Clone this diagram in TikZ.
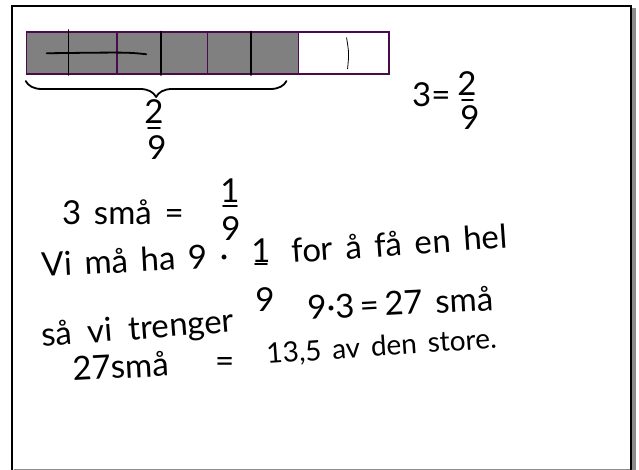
\documentclass[tikz,border=0pt]{standalone}
\usepackage{fontspec}
\usetikzlibrary{decorations.pathreplacing,positioning}
\newfontfamily\handfont{Lato}[WordSpace=1.5]
\definecolor{cellplum}{HTML}{4B0A4B}
\definecolor{cellgray}{HTML}{808080}
\definecolor{shadowgray}{HTML}{8C8C8C}

\begin{document}
\begin{tikzpicture}[
    x=1pt,y=-1pt,
    part/.style={draw=cellplum,line width=1.5pt,fill=cellgray,
                 minimum width=90.6pt,minimum height=42pt,inner sep=0pt,anchor=north west},
    hand/.style={font=\handfont\fontsize{33}{38}\selectfont,inner sep=0pt,anchor=base west},
    digit/.style={font=\handfont\fontsize{33}{38}\selectfont,inner sep=0pt},
    pen/.style={line width=1.8pt,line cap=round,line join=round}
  ]
    \useasboundingbox (0,0) rectangle (639,470);
    \fill[shadowgray] (14,8) rectangle (636,472);
    \fill[white] (12,6) rectangle (631,468.5);
    \draw[line width=2pt] (12,472) -- (12,6) -- (631,6) -- (631,472);

    \node[part] (part1) at (25.7,31.5) {};
    \node[part] (part2) at (116.3,31.5) {};
    \node[part] (part3) at (206.9,31.5) {};
    \node[part,fill=white] (part4) at (297.5,31.5) {};
    \draw[pen] ([xshift=-3.3pt,yshift=1.5pt]part1.north) -- ([xshift=-3.3pt]part1.south);
    \draw[pen] ([xshift=-1.3pt]part2.north) -- ([xshift=-1.3pt]part2.south);
    \draw[pen] ([xshift=-2pt]part3.north) -- ([xshift=-2pt]part3.south);
    \draw[line width=0.8pt] ([xshift=3pt,yshift=-6pt]part4.north) .. controls ([xshift=5.5pt]part4.center) .. ([xshift=4pt,yshift=6pt]part4.south);
    \draw[pen] ([xshift=21pt]part1.west) .. controls ([xshift=10pt,yshift=1pt]part1.east) .. ([xshift=30pt,yshift=-1pt]part2.west);

    \draw[pen,decorate,decoration={brace,mirror,amplitude=16pt}]
      ([yshift=-6pt]part1.south west) -- ([xshift=-11pt,yshift=-6pt]part4.south west);
    \node[digit] (twoA) at (154,112) {2};
    \node[digit] (nineA) at (157,148) {9};
    \draw[pen] ([xshift=-6pt,yshift=-4pt]twoA.south) -- ([xshift=6pt,yshift=-4pt]twoA.south);

    \node[hand] (threeB) at (412,107) {3=};
    \node[digit] (twoB) at (467,84) {2};
    \node[digit] (nineB) at (470,118) {9};
    \draw[pen] ([xshift=-5pt,yshift=-4pt]twoB.south) -- ([xshift=6pt,yshift=-4pt]twoB.south);

    \node[hand] (smaA) at (62,225) {3 små =};
    \node[digit] (oneA) at (230,191) {1};
    \node[digit] (nineC) at (231,229) {9};
    \draw[pen] ([xshift=-7pt,yshift=-3pt]oneA.south) -- ([xshift=7pt,yshift=-3pt]oneA.south);

    \node[hand,rotate=3] (lineA) at (42,277) {Vi må ha 9 ·};
    \node[digit] (oneB) at (261,251) {1};
    \node[digit] (nineD) at (265,300) {9};
    \draw[pen] ([xshift=-6pt,yshift=-1pt]oneB.south) -- ([xshift=6pt,yshift=-1pt]oneB.south);
    \node[hand,rotate=4] (lineB) at (292,263) {for å få en hel};

    \node[hand,rotate=4.5,text depth=0pt] (lineC) at (42,347) {så\hspace{16pt}vi\hspace{16pt}trenger};
    \node[hand,rotate=3] (lineD) at (308,320) {9·3\,=\,27 små};

    \node[hand,rotate=3] (lineE) at (73,381) {27små};
    \node[hand] (eqE) at (215,372) {=};
    \node[hand,rotate=4,font=\handfont\fontsize{28}{34}\selectfont] (lineF) at (267,364) {13,5 av den store.};
  \end{tikzpicture}
\end{document}
